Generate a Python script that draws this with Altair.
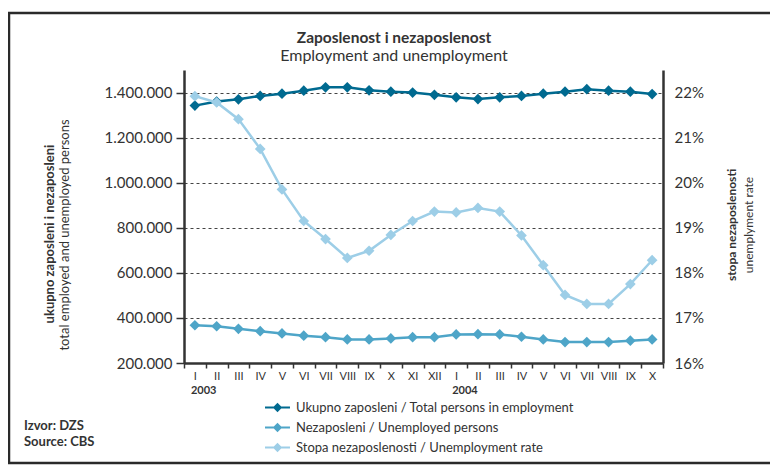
import altair as alt
import pandas as pd

# ---- data ----
months = ["I", "II", "III", "IV", "V", "VI", "VII", "VIII", "IX", "X", "XI", "XII",
          "I", "II", "III", "IV", "V", "VI", "VII", "VIII", "IX", "X"]
years = [2003] * 12 + [2004] * 10
employed = [1342000, 1360000, 1370000, 1385000, 1395000, 1408000, 1423000, 1423000,
            1410000, 1404000, 1400000, 1390000, 1379000, 1371000, 1379000, 1385000,
            1395000, 1404000, 1415000, 1408000, 1404000, 1393000]
unemployed = [367500, 363000, 351600, 341000, 331000, 321000, 314700, 304600,
              304600, 309000, 314700, 314700, 326600, 328000, 326600, 316500,
              304600, 292700, 292700, 292700, 298900, 304600]
rate = [21.92, 21.78, 21.41, 20.75, 19.85, 19.15, 18.75, 18.33, 18.49, 18.84, 19.15,
        19.36, 19.34, 19.44, 19.36, 18.83, 18.17, 17.51, 17.31, 17.31, 17.75, 18.28]

series_names = ["Ukupno zaposleni / Total persons in employment",
                "Nezaposleni / Unemployed persons",
                "Stopa nezaposlenosti / Unemployment rate"]
series_colors = ["#006a90", "#4ea5c8", "#9dcee7"]

left_ticks = [200000, 400000, 600000, 800000, 1000000, 1200000, 1400000]
right_ticks = [16, 17, 18, 19, 20, 21, 22]

title_text = "Zaposlenost i nezaposlenost"
subtitle_text = "Employment and unemployment"
left_title_bold = "ukupno zaposleni i nezaposleni"
left_title_reg = "total employed and unemployed persons"
right_title_bold = "stopa nezaposlenosti"
right_title_reg = "unemplyment rate"
source_lines = ["Izvor: DZS", "Source: CBS"]

FONT = "Lato"
TXT = "#333333"

keys = [f"{m}-{y}" for m, y in zip(months, years)]

df_left = pd.DataFrame({
    "key": keys * 2,
    "value": employed + unemployed,
    "series": [series_names[0]] * len(keys) + [series_names[1]] * len(keys),
})
df_right = pd.DataFrame({"key": keys, "value": rate, "series": series_names[2]})
df_years = pd.DataFrame({"key": [keys[0], keys[12]], "year": [str(years[0]), str(years[12])]})

x_enc = alt.X("key:N", sort=keys, title=None,
              scale=alt.Scale(type="band", paddingInner=0, paddingOuter=0),
              axis=alt.Axis(labelExpr="isValid(datum.value) ? split(datum.value, '-')[0] : ''",
                            labelAngle=0,
                            tickBand="extent", tickSize=5, tickColor=TXT, tickWidth=1.5,
                            domainColor=TXT, domainWidth=2.5, labelFont=FONT,
                            labelFontSize=11, labelColor=TXT, labelPadding=2))

color_scale = alt.Scale(domain=series_names, range=series_colors)
legend_path = "M-2,-0.17H2V0.17H-2Z M-0.75,0L0,-0.75L0.75,0L0,0.75Z"
legend = alt.Legend(title=None, orient="none", legendX=87, legendY=331,
                    symbolType=legend_path, symbolSize=156, symbolStrokeWidth=0,
                    labelFont=FONT, labelFontSize=13, labelColor=TXT, rowPadding=6,
                    labelOffset=12, labelLimit=0, padding=0, direction="vertical")

left_label_expr = ("datum.value >= 1000000 ? format(floor(datum.value/1000000),'d') + '.' + "
                   "format(floor(datum.value/1000) % 1000,'03d') + '.000' : "
                   "format(datum.value/1000,'d') + '.000'")

y_left = alt.Y("value:Q", title=None,
               scale=alt.Scale(domain=[200000, 1500000], nice=False, zero=False),
               axis=alt.Axis(values=left_ticks, labelExpr=left_label_expr, grid=True,
                             gridDash=[3, 3], gridColor="#444444", gridWidth=1,
                             tickSize=8, tickColor=TXT, tickWidth=1.5, domainColor=TXT,
                             domainWidth=2.5, labelFont=FONT, labelFontSize=15,
                             labelColor=TXT, labelPadding=4))
y_right = alt.Y("value:Q", title=None,
                scale=alt.Scale(domain=[16, 22.5], nice=False, zero=False),
                axis=alt.Axis(orient="right", values=right_ticks,
                              labelExpr="datum.value + '%'", grid=False, ticks=False,
                              domainColor=TXT, domainWidth=2.5, labelFont=FONT,
                              labelFontSize=15, labelColor=TXT, labelPadding=11))

color_enc = alt.Color("series:N", scale=color_scale, legend=legend)


def series_line(df, name, color, y):
    return alt.Chart(df).transform_filter(alt.datum.series == name).mark_line(
        strokeWidth=2.5, color=color).encode(x=x_enc, y=y)


left_lines = [series_line(df_left, series_names[i], series_colors[i], y_left) for i in (0, 1)]
left_pts = alt.Chart(df_left).mark_point(shape="diamond", filled=True, size=115, opacity=1).encode(
    x=x_enc, y=y_left, color=color_enc)
right_line = series_line(df_right, series_names[2], series_colors[2], y_right)
right_pts = alt.Chart(df_right).mark_point(shape="diamond", filled=True, size=115, opacity=1).encode(
    x=x_enc, y=y_right, color=color_enc)

year_text = alt.Chart(df_years).mark_text(font=FONT, fontSize=11, fontWeight="bold",
                                          color=TXT, align="left", dx=-4).encode(
    x=alt.X("key:N", sort=keys), y=alt.value(321), text="year:N")

one = pd.DataFrame({"a": [0]})
frame = alt.Chart(one).mark_rect(filled=False, stroke="#2a2a2a", strokeWidth=2.5).encode(
    x=alt.value(-175), x2=alt.value(650), y=alt.value(-57), y2=alt.value(393))


def txt(t, x, y, size, bold=False, angle=0, align="center"):
    props = dict(font=FONT, fontSize=size, color=TXT, align=align, baseline="middle")
    if bold:
        props["fontWeight"] = "bold"
    if angle:
        props["angle"] = angle
    return alt.Chart(pd.DataFrame({"t": [t]})).mark_text(**props).encode(
        x=alt.value(x), y=alt.value(y), text="t:N")


texts = [
    txt(title_text, 210, -32, 15.5, bold=True),
    txt(subtitle_text, 210, -14, 16),
    txt(left_title_bold, -134, 164, 13, bold=True, angle=270),
    txt(left_title_reg, -119, 165, 13, angle=270),
    txt(right_title_bold, 548, 155, 12, bold=True, angle=270),
    txt(right_title_reg, 565, 155, 12, angle=270),
    txt(source_lines[0], -160, 356, 13, bold=True, align="left"),
    txt(source_lines[1], -160, 372, 13, bold=True, align="left"),
]

lines = alt.layer(
    alt.layer(*left_lines, left_pts),
    alt.layer(right_line, right_pts),
).resolve_scale(y="independent")

chart = alt.layer(frame, lines, year_text, *texts).properties(
    width=479, height=293,
    padding={"left": 176, "top": 62, "right": 107, "bottom": 102},
    autosize=alt.AutoSizeParams(type="none"),
).configure_view(stroke=None)

chart.save("out.html", embed_options={"renderer": "svg", "actions": False})
